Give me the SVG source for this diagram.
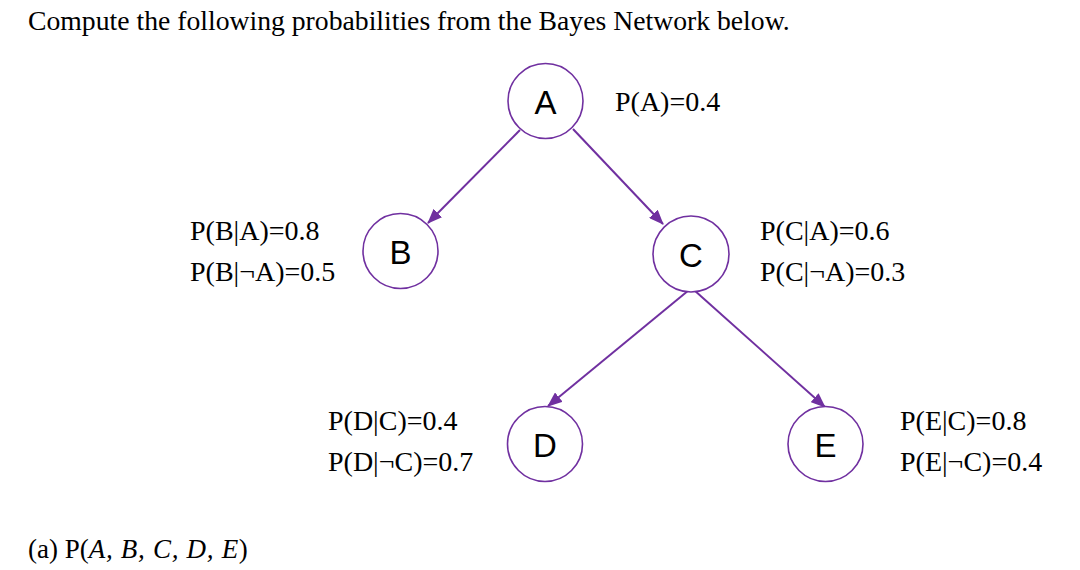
<svg xmlns="http://www.w3.org/2000/svg" width="1080" height="570" viewBox="0 0 1080 570">
<defs>
<marker id="arr" markerUnits="userSpaceOnUse" markerWidth="16" markerHeight="12" refX="14" refY="6" orient="auto">
<path d="M0,0 L15,6 L0,12 Z" fill="#7030A0"/>
</marker>
<style>
.t{font-family:"Liberation Serif","Times New Roman",serif;font-size:28px;fill:#000}
.n{fill:#fff;stroke:#7030A0;stroke-width:1.6}
.l{font-family:"Liberation Sans",Arial,sans-serif;font-size:33px;fill:#000;text-anchor:middle}
.e{stroke:#7030A0;stroke-width:2;fill:none;marker-end:url(#arr)}
.i{font-style:italic}
</style>
</defs>
<rect width="1080" height="570" fill="#fff"/>
<text class="t" x="28" y="30" style="font-size:27.7px">Compute the following probabilities from the Bayes Network below.</text>
<g id="edges">
<line class="e" x1="520" y1="130" x2="428" y2="223"/>
<line class="e" x1="573" y1="129" x2="663" y2="224"/>
<line class="e" x1="689" y1="290" x2="548" y2="406"/>
<line class="e" x1="694" y1="290" x2="825" y2="407"/>
</g>
<g id="A"><circle class="n" cx="545.5" cy="101" r="37.5"/><text class="l" x="545.5" y="114">A</text></g>
<g id="B"><circle class="n" cx="400.5" cy="251" r="37.5"/><text class="l" x="400.5" y="264">B</text></g>
<g id="C"><circle class="n" cx="691" cy="254" r="38"/><text class="l" x="691" y="267">C</text></g>
<g id="D"><circle class="n" cx="545" cy="444" r="37.5"/><text class="l" x="545" y="457">D</text></g>
<g id="E"><circle class="n" cx="825.5" cy="444" r="37.5"/><text class="l" x="825.5" y="457">E</text></g>
<g id="labels">
<text class="t" x="615" y="111">P(A)=0.4</text>
<text class="t" x="190" y="240">P(B|A)=0.8</text>
<text class="t" x="190" y="281">P(B|¬A)=0.5</text>
<text class="t" x="760" y="240">P(C|A)=0.6</text>
<text class="t" x="760" y="281">P(C|¬A)=0.3</text>
<text class="t" x="328" y="430">P(D|C)=0.4</text>
<text class="t" x="328" y="471">P(D|¬C)=0.7</text>
<text class="t" x="900" y="430">P(E|C)=0.8</text>
<text class="t" x="900" y="471">P(E|¬C)=0.4</text>
<text class="t" x="28" y="558" style="font-size:27px">(a) P(<tspan class="i" letter-spacing="0.7">A, B, C, D, E</tspan>)</text>
</g>
</svg>
